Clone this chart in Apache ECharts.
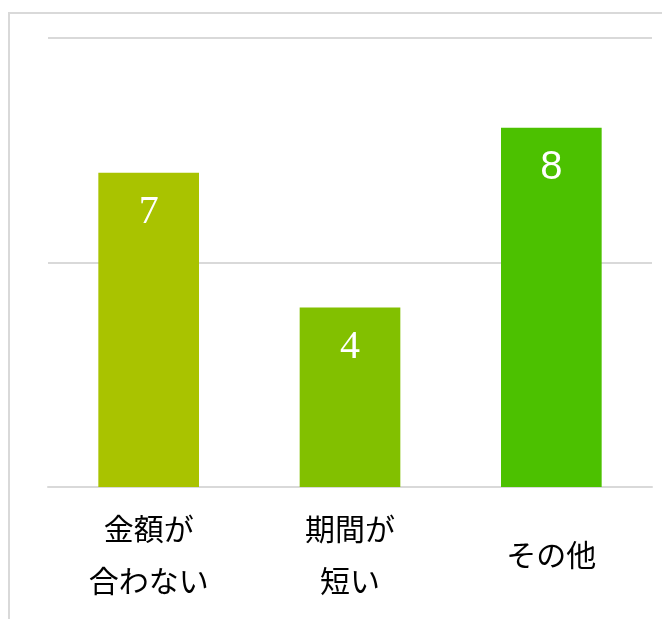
<!DOCTYPE html>
<html><head><meta charset="utf-8">
<script src="https://cdn.jsdelivr.net/npm/echarts@6/dist/echarts.min.js"></script>
<style>html,body{margin:0;padding:0;background:#fff}#c{width:662px;height:619px}</style>
</head><body><div id="c"></div>
<script>
const categories = ['金額が\n合わない', '期間が\n短い', 'その他'];
const values = [7, 4, 8];
const colors = ['#A9C300', '#82C000', '#4CC100'];
const labelFonts = ['Liberation Serif', 'Liberation Serif', 'Liberation Sans'];

const chart = echarts.init(document.getElementById('c'));
chart.setOption({
  animation: false,
  graphic: [{
    type: 'rect', shape: {x: 9, y: 13, width: 700, height: 700},
    style: {fill: 'none', stroke: '#d9d9d9', lineWidth: 2}, silent: true, z: -1
  }],
  grid: {left: 48, right: 10, top: 38, bottom: 132},
  xAxis: {
    type: 'category', data: categories,
    axisLine: {lineStyle: {color: '#d9d9d9', width: 2}},
    axisTick: {show: false},
    axisLabel: {color: '#000', fontSize: 30, fontFamily: 'Noto Sans CJK JP', lineHeight: 52,
      verticalAlign: 'middle', margin: 68, interval: 0}
  },
  yAxis: {
    type: 'value', min: 0, max: 10, interval: 5,
    axisLabel: {show: false}, axisLine: {show: false}, axisTick: {show: false},
    splitLine: {lineStyle: {color: '#d9d9d9', width: 2}}
  },
  series: [{
    type: 'bar', barWidth: '50%',
    data: values.map((v, i) => ({value: v, itemStyle: {color: colors[i]},
      label: {fontFamily: labelFonts[i]}})),
    label: {show: true, position: 'insideTop', distance: 20, color: '#fff', fontSize: 40}
  }]
});
</script></body></html>
